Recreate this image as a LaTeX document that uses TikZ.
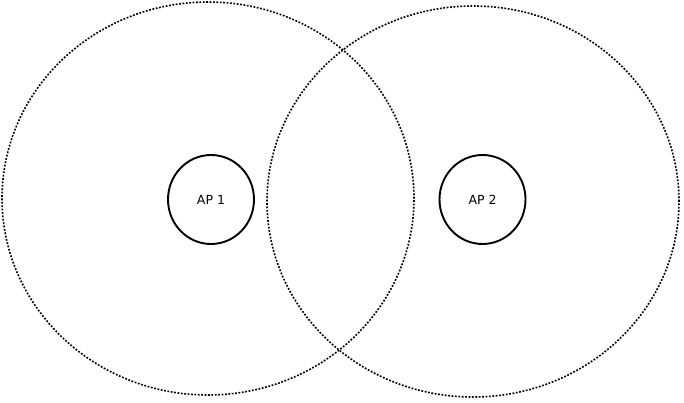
\documentclass[tikz,border=0pt]{standalone}
\usepackage{fontspec}
\setmainfont{DejaVu Sans}
\usetikzlibrary{shapes.geometric}
\begin{document}
\begin{tikzpicture}[x=1pt, y=-1pt,
    coverage/.style={draw, ellipse, dash pattern=on 1.8pt off 1.6pt, line width=1.6pt, minimum width=412pt, inner sep=0pt},
    ap/.style={draw, ellipse, line width=1.9pt, minimum width=86pt, minimum height=89pt, inner sep=0pt, font=\fontsize{12.5}{15}\selectfont}]
      \useasboundingbox (0,0) rectangle (684,403);
      \node[coverage, minimum height=393pt] (cov1) at (208,198.5) {};
      \node[coverage, minimum height=391pt] (cov2) at (473,201.5) {};
      \node[ap] (ap1) at (211,199.5) {AP 1};
      \node[ap] (ap2) at (482.5,199.5) {AP 2};
    \end{tikzpicture}
\end{document}
